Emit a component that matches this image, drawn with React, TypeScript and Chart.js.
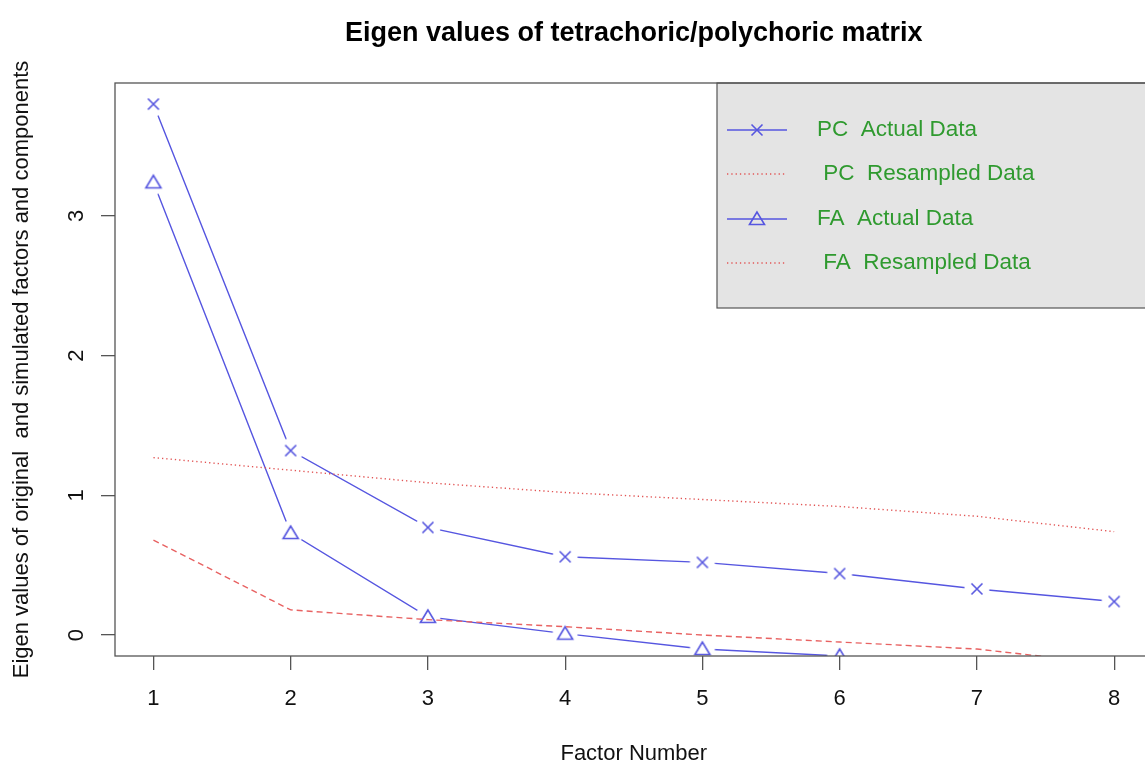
import { useEffect, useRef } from "react";
import { Chart, registerables } from "chart.js";

Chart.register(...registerables);

// ---- data ----
const factors = [1, 2, 3, 4, 5, 6, 7, 8];
const pcActual = [3.80, 1.32, 0.77, 0.56, 0.52, 0.44, 0.33, 0.24];
const pcResampled = [1.27, 1.18, 1.09, 1.02, 0.97, 0.92, 0.85, 0.74];
const faActual = [3.24, 0.73, 0.13, 0.01, -0.10, -0.15, -0.25, -0.32];
const faResampled = [0.68, 0.18, 0.11, 0.06, 0.0, -0.05, -0.10, -0.21];
const yTicks = [0, 1, 2, 3];
const legendLabels = ["PC  Actual Data", " PC  Resampled Data", "FA  Actual Data", " FA  Resampled Data"];
const titleText = "Eigen values of tetrachoric/polychoric matrix";
const xTitle = "Factor Number";
const yTitle = "Eigen values of original  and simulated factors and components";

const FONT = "'Liberation Sans', Arial, Helvetica, sans-serif";
const BLUE = "#5656e0";
const RED = "#e25555";
const GREEN = "#2f9a2f";
const AXIS = "#555555";

function drawMarker(ctx: CanvasRenderingContext2D, kind: string, cx: number, cy: number) {
  ctx.save();
  ctx.strokeStyle = BLUE;
  ctx.lineWidth = 1.6;
  ctx.beginPath();
  if (kind === "x") {
    ctx.moveTo(cx - 5.5, cy - 5.5);
    ctx.lineTo(cx + 5.5, cy + 5.5);
    ctx.moveTo(cx - 5.5, cy + 5.5);
    ctx.lineTo(cx + 5.5, cy - 5.5);
  } else {
    ctx.moveTo(cx, cy - 7);
    ctx.lineTo(cx - 7.5, cy + 5.5);
    ctx.lineTo(cx + 7.5, cy + 5.5);
    ctx.closePath();
  }
  ctx.stroke();
  ctx.restore();
}

function makeMarker(kind: string) {
  const c = document.createElement("canvas");
  c.width = 30;
  c.height = 30;
  const ctx = c.getContext("2d")!;
  ctx.fillStyle = "#ffffff";
  ctx.beginPath();
  ctx.arc(15, 15, 12.5, 0, Math.PI * 2);
  ctx.fill();
  drawMarker(ctx, kind, 15, 15);
  return c;
}

const toXY = (vals: number[]) => factors.map((f, i) => ({ x: f, y: vals[i] }));

const rPlugin = {
  id: "rPlot",
  afterDatasetsDraw(chart: any) {
    const { ctx, chartArea } = chart;
    const { left, top, right, bottom } = chartArea;
    ctx.save();
    // legend box
    const lx = 717;
    const lb = 308;
    ctx.fillStyle = "#e4e4e4";
    ctx.fillRect(lx, top, right - lx, lb - top);
    ctx.strokeStyle = AXIS;
    ctx.lineWidth = 1.2;
    ctx.strokeRect(lx, top, right - lx, lb - top);
    const rows = [130, 174, 219, 263];
    const kinds = ["x", "", "tri", ""];
    rows.forEach((ry, i) => {
      ctx.save();
      if (kinds[i]) {
        ctx.strokeStyle = BLUE;
        ctx.lineWidth = 1.4;
        ctx.setLineDash([]);
      } else {
        ctx.strokeStyle = RED;
        ctx.lineWidth = 1.3;
        ctx.setLineDash([1.3, 3]);
      }
      ctx.beginPath();
      ctx.moveTo(727, ry);
      ctx.lineTo(787, ry);
      ctx.stroke();
      ctx.restore();
      if (kinds[i]) drawMarker(ctx, kinds[i], 757, ry);
      ctx.fillStyle = GREEN;
      ctx.font = `22.5px ${FONT}`;
      ctx.textBaseline = "middle";
      ctx.textAlign = "left";
      ctx.fillText(legendLabels[i], 817, ry);
    });
    // plot box
    ctx.strokeStyle = AXIS;
    ctx.lineWidth = 1.3;
    ctx.strokeRect(left, top, right - left, bottom - top);
    ctx.restore();
  },
};

export default function App() {
  const ref = useRef<HTMLCanvasElement | null>(null);
  useEffect(() => {
    if (!ref.current) return;
    const xMark = makeMarker("x");
    const triMark = makeMarker("tri");
    const chart = new Chart(ref.current, {
      type: "line",
      data: {
        datasets: [
          {
            label: "PC Resampled Data",
            data: toXY(pcResampled),
            borderColor: RED,
            borderWidth: 1.4,
            borderDash: [1.3, 3],
            pointRadius: 0,
            fill: false,
            order: 0,
          },
          {
            label: "FA Resampled Data",
            data: toXY(faResampled),
            borderColor: "#e86262",
            borderWidth: 1.4,
            borderDash: [6, 4],
            pointRadius: 0,
            fill: false,
            order: 0,
          },
          {
            label: "PC Actual Data",
            data: toXY(pcActual),
            borderColor: BLUE,
            borderWidth: 1.4,
            pointStyle: xMark as any,
            pointRadius: 6,
            fill: false,
            order: 1,
          },
          {
            label: "FA Actual Data",
            data: toXY(faActual),
            borderColor: BLUE,
            borderWidth: 1.4,
            pointStyle: triMark as any,
            pointRadius: 6,
            fill: false,
            order: 1,
          },
        ],
      },
      options: {
        animation: false,
        responsive: false,
        devicePixelRatio: 1,
        layout: { padding: { left: 0, right: 3, top: 0, bottom: 0 } },
        plugins: {
          legend: { display: false },
          tooltip: { enabled: false },
          title: {
            display: true,
            text: titleText,
            fullSize: false,
            color: "#000",
            font: { family: FONT, size: 27, weight: "bold" },
            padding: { top: 17, bottom: 33.6 },
          },
        },
        scales: {
          x: {
            type: "linear",
            min: 0.72,
            max: 8.28,
            afterBuildTicks: (s: any) => {
              s.ticks = factors.map((v) => ({ value: v }));
            },
            afterFit: (s: any) => {
              s.height = 107;
            },
            grid: { drawOnChartArea: false, drawTicks: true, tickLength: 14, color: AXIS, lineWidth: 1.3 },
            border: { display: false },
            ticks: {
              font: { family: FONT, size: 22 },
              color: "#111",
              padding: 16,
              maxRotation: 0,
              autoSkip: false,
              callback: (v: any) => String(v),
            },
            title: {
              display: true,
              text: xTitle,
              color: "#111",
              font: { family: FONT, size: 22, lineHeight: 1 },
              padding: { top: 0, bottom: -2 },
            },
          },
          y: {
            type: "linear",
            min: -0.15,
            max: 3.951,
            afterBuildTicks: (s: any) => {
              s.ticks = yTicks.map((v) => ({ value: v }));
            },
            afterFit: (s: any) => {
              s.width = 115;
            },
            grid: { drawOnChartArea: false, drawTicks: true, tickLength: 14, color: AXIS, lineWidth: 1.3 },
            border: { display: false },
            ticks: {
              font: { family: FONT, size: 22 },
              color: "#111",
              padding: 18,
              minRotation: 90,
              maxRotation: 90,
              crossAlign: "center",
              autoSkip: false,
              callback: (v: any) => String(v),
            },
            title: {
              display: true,
              text: yTitle,
              color: "#111",
              font: { family: FONT, size: 22, lineHeight: 1 },
              padding: { top: 11, bottom: 0 },
            },
          },
        },
      },
      plugins: [rPlugin],
    } as any);
    return () => chart.destroy();
  }, []);

  return (
    <div
      style={{
        position: "fixed",
        left: 0,
        top: 0,
        width: 1145,
        height: 763,
        overflow: "hidden",
        background: "#fff",
      }}
    >
      <canvas ref={ref} width={1160} height={763} style={{ width: 1160, height: 763, display: "block" }} />
    </div>
  );
}
